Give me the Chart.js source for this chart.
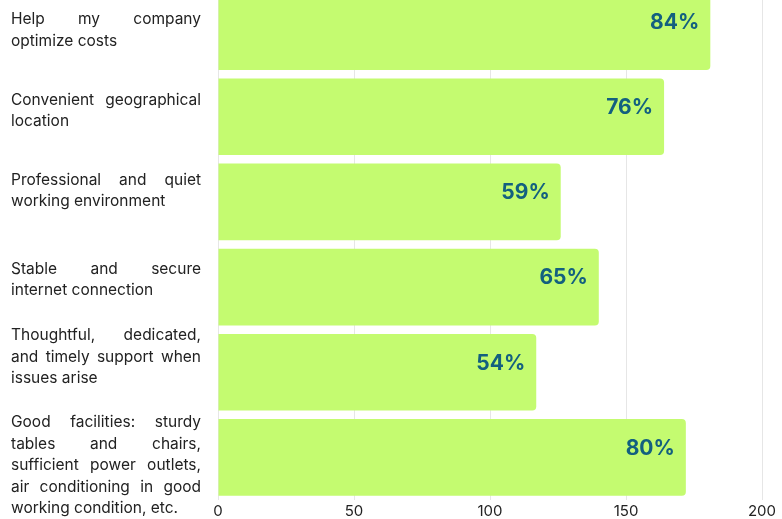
<!DOCTYPE html>
<html>
<head>
<meta charset="utf-8">
<script src="https://cdn.jsdelivr.net/npm/chart.js@4.4.0/dist/chart.umd.min.js"></script>
<style>
  html, body { margin: 0; padding: 0; background: #fff; overflow: hidden; }
  #wrap { position: absolute; left: 0; top: -11px; width: 782px; height: 533px; }
</style>
</head>
<body>
<div id="wrap"><canvas id="reasons"></canvas></div>
<script>
// survey answers, each reason split into the lines it is printed on
var reasonLines = [
    ['Help my company', 'optimize costs'],
    ['Convenient geographical', 'location'],
    ['Professional and quiet', 'working environment'],
    ['Stable and secure', 'internet connection'],
    ['Thoughtful, dedicated,', 'and timely support when', 'issues arise'],
    ['Good facilities: sturdy', 'tables and chairs,', 'sufficient power outlets,', 'air conditioning in good', 'working condition, etc.']
];
var responseCounts = [181, 164, 126, 140, 117, 172];
var totalRespondents = 215;
var xTicks = [0, 50, 100, 150, 200];

var categories = reasonLines.map(function(lines) { return lines.join(' '); });

// justified reason text to the left of each bar
var reasonLabels = {
    id: 'reasonLabels',
    afterDraw: function(chart) {
        var ctx = chart.ctx;
        var yScale = chart.scales.y;
        var left = 11, right = 201, lineH = 21.5;
        var nudge = [-1, -6, -11, -7, -15, 8];
        ctx.save();
        ctx.font = '15.5px Inter';
        ctx.fillStyle = '#222';
        ctx.textBaseline = 'middle';
        ctx.textAlign = 'left';
        reasonLines.forEach(function(lines, i) {
            var center = yScale.getPixelForValue(i) + nudge[i];
            var top = center - (lines.length - 1) * lineH / 2;
            lines.forEach(function(line, j) {
                var y = top + j * lineH;
                var words = line.split(' ');
                if (j === lines.length - 1 || words.length < 2) {
                    ctx.fillText(line, left, y);
                    return;
                }
                var used = 0;
                words.forEach(function(w) { used += ctx.measureText(w).width; });
                var gap = (right - left - used) / (words.length - 1);
                var x = left;
                words.forEach(function(w) {
                    ctx.fillText(w, x, y);
                    x += ctx.measureText(w).width + gap;
                });
            });
        });
        ctx.restore();
    }
};

// share of respondents written inside the end of each bar
var shareLabels = {
    id: 'shareLabels',
    afterDatasetsDraw: function(chart) {
        var ctx = chart.ctx;
        var meta = chart.getDatasetMeta(0);
        ctx.save();
        ctx.font = 'bold 21px Inter';
        ctx.fillStyle = '#13607f';
        ctx.textAlign = 'right';
        ctx.textBaseline = 'middle';
        meta.data.forEach(function(bar, i) {
            var pct = Math.round(responseCounts[i] / totalRespondents * 100);
            ctx.fillText(pct + '%', bar.x - 11, bar.y - 9);
        });
        ctx.restore();
    }
};

new Chart(document.getElementById('reasons'), {
    type: 'bar',
    data: {
        labels: categories,
        datasets: [{
            data: responseCounts,
            backgroundColor: '#c4fb70',
            borderRadius: 4,
            categoryPercentage: 1,
            barPercentage: 0.9
        }]
    },
    options: {
        indexAxis: 'y',
        responsive: true,
        maintainAspectRatio: false,
        animation: false,
        layout: { padding: { top: 0, right: 20, bottom: 0, left: 0 } },
        plugins: {
            legend: { display: false },
            tooltip: { enabled: false }
        },
        scales: {
            x: {
                min: 0,
                max: 200,
                afterBuildTicks: function(scale) {
                    scale.ticks = xTicks.map(function(v) { return { value: v }; });
                },
                afterFit: function(scale) { scale.height = 22; },
                grid: { color: '#e6e6e6', drawTicks: false },
                border: { display: false },
                ticks: {
                    color: '#222',
                    padding: 2,
                    font: { family: 'Inter', size: 15 }
                }
            },
            y: {
                grid: { display: false },
                border: { display: false },
                ticks: { display: false },
                afterFit: function(scale) { scale.width = 218; }
            }
        }
    },
    plugins: [reasonLabels, shareLabels]
});
</script>
</body>
</html>
